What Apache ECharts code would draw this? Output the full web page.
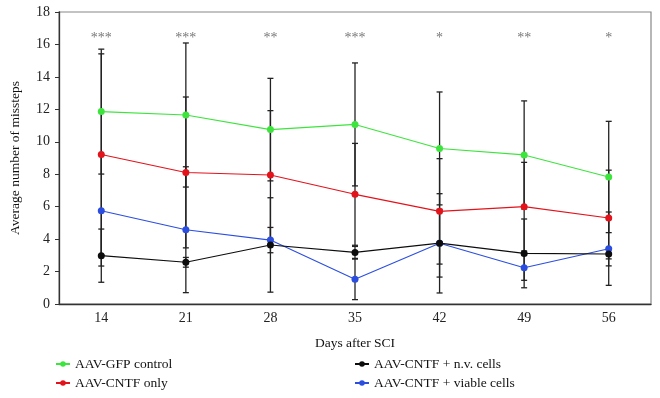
<!DOCTYPE html>
<html>
<head>
<meta charset="utf-8">
<script src="https://cdn.jsdelivr.net/npm/echarts@6/dist/echarts.min.js"></script>
<style>
html,body{margin:0;padding:0;background:#fff;}
#chart{width:660px;height:398px;}
</style>
</head>
<body>
<div id="chart"></div>
<script>
const days = ['14','21','28','35','42','49','56'];
const gfp = [11.86,11.65,10.75,11.07,9.59,9.19,7.83];
const gfpErr = [3.85,4.44,3.16,3.79,3.48,3.33,3.43];
const cntf = [9.22,8.11,7.95,6.76,5.71,6.00,5.30];
const cntfErr = [6.2,4.65,3.97,3.14,3.25,2.73,2.95];
const viable = [5.75,4.58,3.94,1.52,3.74,2.24,3.41];
const viableErr = [3.41,3.88,0.78,1.25,3.06,0.78,2.26];
const nv = [2.98,2.57,3.64,3.18,3.75,3.12,3.08];
const nvErr = [1.64,0.3,2.91,0.37,2.09,2.12,0.3];
const stars = ['***','***','**','***','*','**','*'];
const starLevel = 16.35;

const FONT = '"Liberation Serif", "DejaVu Serif", serif';

function errData(vals, errs){ return vals.map((v,i)=>[i, v-errs[i], v+errs[i]]); }

function errRender(params, api){
  const x = api.value(0);
  const lo = api.coord([x, api.value(1)]);
  const hi = api.coord([x, api.value(2)]);
  const w = 3;
  const style = {stroke:'#222', lineWidth:1.3};
  return {type:'group', children:[
    {type:'line', shape:{x1:lo[0],y1:lo[1],x2:hi[0],y2:hi[1]}, style:style},
    {type:'line', shape:{x1:lo[0]-w,y1:lo[1],x2:lo[0]+w,y2:lo[1]}, style:style},
    {type:'line', shape:{x1:hi[0]-w,y1:hi[1],x2:hi[0]+w,y2:hi[1]}, style:style}
  ]};
}

function starRender(params, api){
  const p = api.coord([api.value(0), api.value(1)]);
  return {type:'text', x:p[0], y:p[1], style:{text: stars[params.dataIndex], fill:'#777', font:'14px ' + FONT, align:'center', verticalAlign:'middle'}};
}

function lineSeries(name, data, color){
  return {name:name, type:'line', data:data, symbol:'circle', symbolSize:7, z:5,
    itemStyle:{color:color}, lineStyle:{color:color, width:1.1}};
}
function errSeries(vals, errs){
  return {type:'custom', renderItem:errRender, data:errData(vals, errs), encode:{x:0, y:[1,2]}, z:2, silent:true};
}

const legendText = {fontFamily:FONT, fontSize:13.5, color:'#111'};
const chart = echarts.init(document.getElementById('chart'), null, {renderer:'canvas'});
chart.setOption({
  animation:false,
  backgroundColor:'#fff',
  textStyle:{fontFamily:FONT},
  grid:{left:55, right:9, top:12, bottom:94, show:true, borderColor:'#888', borderWidth:1.2},
  legend:[
    {left:55, top:357, padding:0, orient:'vertical', itemGap:5, itemWidth:14, itemHeight:7,
     textStyle:legendText, data:['AAV-GFP control','AAV-CNTF only']},
    {left:354, top:357, padding:0, orient:'vertical', itemGap:5, itemWidth:14, itemHeight:7,
     textStyle:legendText, data:['AAV-CNTF + n.v. cells','AAV-CNTF + viable cells']}
  ],
  xAxis:{type:'category', data:days, boundaryGap:true,
    name:'Days after SCI', nameLocation:'middle', nameGap:32,
    nameTextStyle:{fontFamily:FONT, fontSize:13.5, color:'#111'},
    axisLine:{lineStyle:{color:'#333', width:1.3}},
    axisTick:{alignWithLabel:true, length:4, lineStyle:{color:'#333'}},
    axisLabel:{fontFamily:FONT, fontSize:14, color:'#222', margin:7},
    splitLine:{show:false}},
  yAxis:{type:'value', min:0, max:18, interval:2,
    name:'Average number of missteps', nameLocation:'middle', nameGap:37,
    nameTextStyle:{fontFamily:FONT, fontSize:13.5, color:'#111'},
    axisLine:{show:true, lineStyle:{color:'#333', width:1.3}},
    axisTick:{show:true, length:4, lineStyle:{color:'#333'}},
    axisLabel:{fontFamily:FONT, fontSize:14, color:'#222', margin:9},
    splitLine:{show:false}},
  series:[
    errSeries(gfp, gfpErr), errSeries(cntf, cntfErr), errSeries(viable, viableErr), errSeries(nv, nvErr),
    lineSeries('AAV-GFP control', gfp, '#3ee43e'),
    lineSeries('AAV-CNTF only', cntf, '#e3131b'),
    lineSeries('AAV-CNTF + viable cells', viable, '#2b4ee0'),
    lineSeries('AAV-CNTF + n.v. cells', nv, '#0d0d0d'),
    {type:'custom', renderItem:starRender, data:days.map((d,i)=>[i, starLevel]), encode:{x:0,y:1}, z:6, silent:true}
  ]
});
</script>
</body>
</html>
